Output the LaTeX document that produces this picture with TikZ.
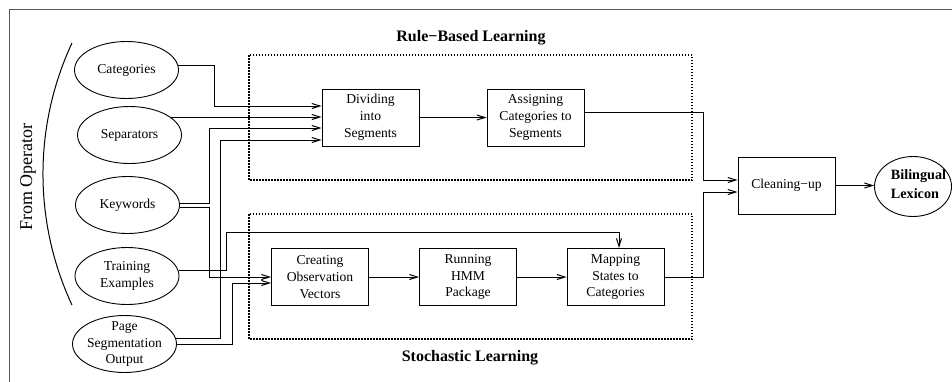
\documentclass[tikz,border=0pt]{standalone}
\usepackage{fontspec}
\setmainfont{Liberation Serif}
\usetikzlibrary{arrows.meta,shapes.geometric}
\begin{document}
\begin{tikzpicture}[x=1pt,y=-1pt,
  every node/.style={inner sep=0pt},
  txt/.style={font=\fontsize{13.6}{16.8}\selectfont, align=center},
  oval/.style={draw, ellipse, line width=0.9pt, minimum width=104pt, minimum height=57pt, label={[txt]center:#1}},
  procbox/.style={txt, draw, rectangle, line width=0.9pt, minimum width=97pt, minimum height=57pt},
  conn/.style={line width=1pt, -{Straight Barb[length=8pt,width=5pt]}},
  plainline/.style={line width=1pt},
  region/.style={line width=2pt, dash pattern=on 1.5pt off 1.5pt},
  heading/.style={font=\fontsize{16}{19}\bfseries\selectfont}
]
\clip (0,0) rectangle (952,381);
\fill[white] (0,0) rectangle (952,381);
\draw[black!65, line width=1pt] (9,400) -- (9,9) -- (970,9);

% regions
\draw[region] (249,55) rectangle (692,180);
\draw[region] (249,214) rectangle (692,339);
\node[heading] (rbl) at (471,38) {Rule−Based Learning};
\node[heading] (stl) at (470,358) {Stochastic Learning};

% operator inputs
\node[font=\fontsize{18}{20}\selectfont, rotate=90] (fop) at (28,177) {From Operator};
\coordinate (arcA) at (72,43);
\coordinate (arcB) at (72,305);
\draw[plainline] (arcA) .. controls (33.3,126) and (33.3,222) .. (arcB);

\node[oval={Categories}] (cat) at (126.5,70) {};
\node[oval={Separators}] (sep) at (129.5,135) {};
\node[oval={Keywords}] (key) at (127.5,205) {};
\node[oval={Training\\Examples}] (tra) at (127,276) {};
\node[oval={Page\\Segmentation\\Output}] (pso) at (124.5,344) {};

% process boxes
\node[procbox] (div) at (370.5,117.5) {Dividing\\into\\Segments};
\node[procbox] (asg) at (535.5,117.5) {Assigning\\Categories to\\Segments};
\node[procbox] (cre) at (320,277) {Creating\\Observation\\Vectors};
\node[procbox] (run) at (468,277) {Running\\HMM\\Package};
\node[procbox] (map) at (615.5,277) {Mapping\\States to\\Categories};
\node[procbox] (cln) at (786.5,185.5) {Cleaning−up};
\node[draw, ellipse, line width=0.9pt, minimum width=77pt, minimum height=60pt] (lex) at (913,186.5) {};
\node[font=\fontsize{14.2}{19}\bfseries\selectfont, align=left] (lext) at (918.5,184) {Bilingual\\Lexicon};

% helper columns / rows
\coordinate (xA) at (214,0);
\coordinate (xB) at (209,0);
\coordinate (xC) at (220,0);
\coordinate (xD) at (232,0);
\coordinate (xE) at (226,0);
\coordinate (xF) at (703,0);
\coordinate (yT) at (0,232);

\coordinate (dA) at ([yshift=11.5pt]div.west);
\coordinate (dB) at ([yshift=0.5pt]div.west);
\coordinate (dC) at ([yshift=-10.5pt]div.west);
\coordinate (dD) at ([yshift=-22.5pt]div.west);
\coordinate (cA) at (cre.west);
\coordinate (cB) at ([yshift=-6pt]cre.west);
\coordinate (lA) at ([yshift=5.5pt]cln.west);
\coordinate (lB) at ([yshift=-6.5pt]cln.west);

% connectors into Dividing
\draw[conn] (cat.5) -| (xA |- dA) -- (dA);
\draw[conn] (sep.24 |- dB) -- (dB);
\draw[conn] (key.2) -| (xB |- dC) -- (dC);
\draw[conn] (pso.6) -| (xC |- dD) -- (dD);

% connectors into Creating
\draw[conn] (key.-3) -| (xB |- cA) -- (cA);
\draw[conn] (pso.east) -| (xD |- cB) -- (cB);

% training examples to mapping
\draw[conn] (tra.6) -| (xE |- yT) -| ([xshift=3.5pt]map.north);

% chains
\draw[conn] (div.east) -- (asg.west);
\draw[conn] (cre.east) -- (run.west);
\draw[conn] (run.east) -- (map.west);

% to cleaning-up
\draw[conn] ([yshift=5.5pt]asg.east) -| (xF |- lA) -- (lA);
\draw[conn] (map.east) -| (xF |- lB) -- (lB);
\draw[conn] (cln.east) -- (cln.east -| lex.west);
\end{tikzpicture}
\end{document}
